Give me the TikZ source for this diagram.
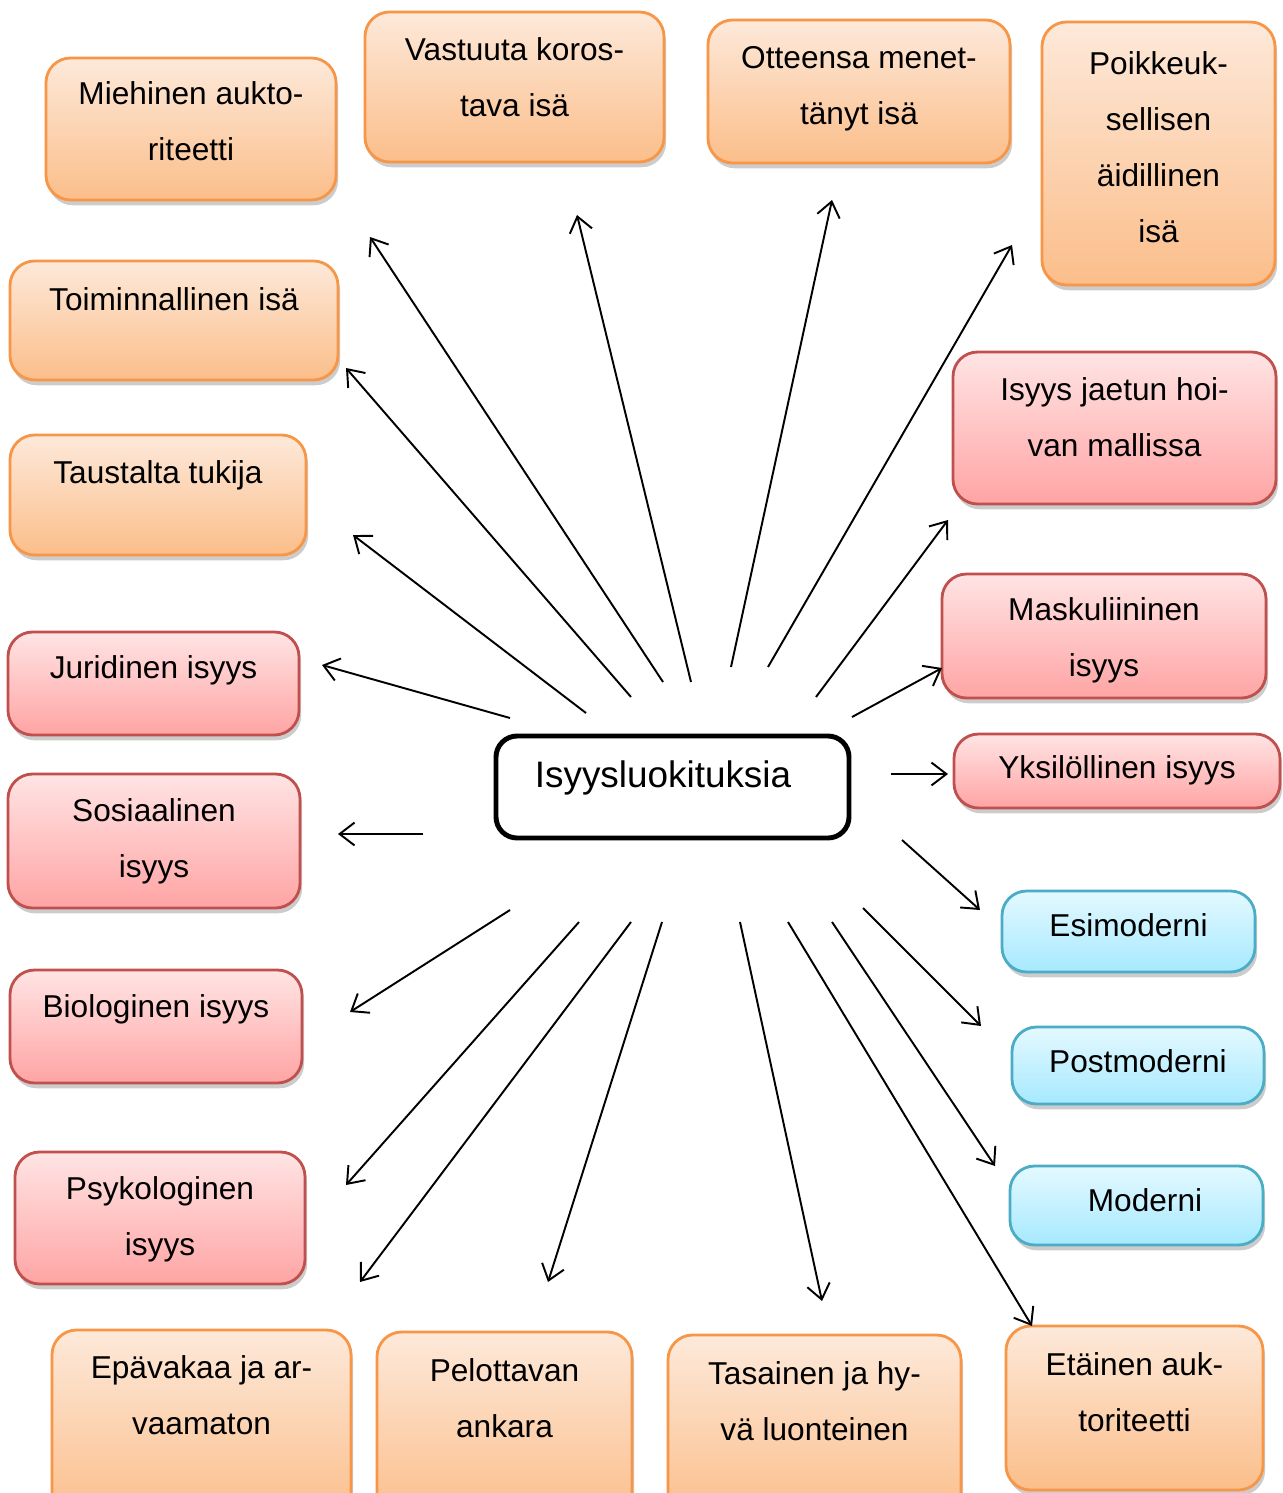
\documentclass[tikz,border=0pt]{standalone}
\usepackage{fontspec}
\setmainfont{Liberation Sans}
\usetikzlibrary{positioning,fit,shadows,arrows.meta}

\definecolor{orline}{HTML}{F79646}
\definecolor{ortop}{HTML}{FDE9DA}
\definecolor{orbot}{HTML}{FBBE8A}
\definecolor{rdline}{HTML}{C0504D}
\definecolor{rdtop}{HTML}{FFE4E4}
\definecolor{rdbot}{HTML}{FFA4A4}
\definecolor{blline}{HTML}{4BACC6}
\definecolor{bltop}{HTML}{E4F9FF}
\definecolor{blbot}{HTML}{A6E9FF}

\tikzset{
  box/.style={rounded corners=14pt, line width=1.6pt, inner sep=0pt,
    drop shadow={shadow xshift=1.2pt, shadow yshift=-3pt, opacity=0.4}},
  obox/.style={box, draw=orline, top color=ortop, bottom color=orbot},
  rbox/.style={box, draw=rdline, top color=rdtop, bottom color=rdbot},
  bbox/.style={box, draw=blline, top color=bltop, bottom color=blbot},
  cbox/.style={rounded corners=12pt, line width=2.8pt, draw=black, fill=white, inner sep=0pt},
  txt/.style={align=center, inner sep=0pt, font=\fontsize{18}{31.9}\selectfont},
  arr/.style={line width=1.1pt, -{Straight Barb[length=8.5pt,width=13pt]}}
}

\begin{document}
\begin{tikzpicture}[x=0.02cm, y=-0.02cm]
\clip (0,0) rectangle (1283,1493);
\fill[white] (0,0) rectangle (1283,1493);

% center
\node[cbox, fit={(496,736) (849,838)}] (isy) {};
\node[txt, font=\fontsize{21}{30}\selectfont, below=0.54cm of isy.north, xshift=-0.19cm] (isyT) {Isyysluokituksia};

% orange boxes
\node[obox, fit={(46,58) (336,200)}] (mie) {};
\node[txt, below=0.5cm of mie.north] (mieT) {Miehinen aukto-\\riteetti};
\node[obox, fit={(365,12) (664,162)}] (vas) {};
\node[txt, below=0.54cm of vas.north] (vasT) {Vastuuta koros-\\tava isä};
\node[obox, fit={(708,20) (1010,163)}] (ott) {};
\node[txt, below=0.54cm of ott.north] (ottT) {Otteensa menet-\\tänyt isä};
\node[obox, fit={(1042,22) (1275,285)}] (poi) {};
\node[txt, below=0.62cm of poi.north] (poiT) {Poikkeuk-\\sellisen\\äidillinen\\isä};
\node[obox, fit={(10,261) (338,380)}] (toi) {};
\node[txt, below=0.56cm of toi.north] (toiT) {Toiminnallinen isä};
\node[obox, fit={(10,435) (306,555)}] (tau) {};
\node[txt, below=0.54cm of tau.north] (tauT) {Taustalta tukija};
\node[obox, fit={(52,1330) (351,1520)}] (epa) {};
\node[txt, below=0.54cm of epa.north] (epaT) {Epävakaa ja ar-\\vaamaton};
\node[obox, fit={(377,1332) (632,1520)}] (pel) {};
\node[txt, below=0.56cm of pel.north] (pelT) {Pelottavan\\ankara};
\node[obox, fit={(668,1335) (961,1520)}] (tas) {};
\node[txt, below=0.56cm of tas.north] (tasT) {Tasainen ja hy-\\vä luonteinen};
\node[obox, fit={(1006,1326) (1263,1490)}] (eta) {};
\node[txt, below=0.56cm of eta.north] (etaT) {Etäinen auk-\\toriteetti};

% red boxes
\node[rbox, fit={(953,352) (1276,504)}] (jae) {};
\node[txt, below=0.54cm of jae.north] (jaeT) {Isyys jaetun hoi-\\van mallissa};
\node[rbox, fit={(942,574) (1266,698)}] (mas) {};
\node[txt, below=0.5cm of mas.north] (masT) {Maskuliininen\\isyys};
\node[rbox, fit={(954,734) (1280,808)}] (yks) {};
\node[txt, below=0.46cm of yks.north] (yksT) {Yksilöllinen isyys};
\node[rbox, fit={(8,632) (299,735)}] (jur) {};
\node[txt, below=0.5cm of jur.north] (jurT) {Juridinen isyys};
\node[rbox, fit={(8,774) (300,908)}] (sos) {};
\node[txt, below=0.52cm of sos.north] (sosT) {Sosiaalinen\\isyys};
\node[rbox, fit={(10,970) (302,1083)}] (bio) {};
\node[txt, below=0.52cm of bio.north] (bioT) {Biologinen isyys};
\node[rbox, fit={(15,1152) (305,1284)}] (psy) {};
\node[txt, below=0.52cm of psy.north] (psyT) {Psykologinen\\isyys};

% blue boxes
\node[bbox, fit={(1002,891) (1255,972)}] (esi) {};
\node[txt, below=0.48cm of esi.north] (esiT) {Esimoderni};
\node[bbox, fit={(1012,1027) (1264,1104)}] (pos) {};
\node[txt, below=0.48cm of pos.north] (posT) {Postmoderni};
\node[bbox, fit={(1010,1166) (1263,1245)}] (mod) {};
\node[txt, below=0.48cm of mod.north, xshift=0.17cm] (modT) {Moderni};

% arrows
\foreach \n/\s/\t in {mie/{663,682}/{370,237}, vas/{691,682}/{577,215},
    ott/{731,667}/{832,200}, poi/{768,667}/{1012,245}, toi/{631,697}/{346,368},
    tau/{586,713}/{353,535}, jae/{816,697}/{948,520}, mas/{852,717}/{942,668},
    jur/{510,718}/{322,665}, yks/{891,774}/{948,774}, sos/{423,834}/{338,834},
    esi/{902,840}/{980,910}, bio/{510,910}/{350,1012}, pos/{863,908}/{981,1026},
    psy/{579,922}/{346,1185}, mod/{832,922}/{995,1166}, epa/{631,922}/{360,1282},
    pel/{662,922}/{548,1282}, tas/{740,922}/{822,1301}, eta/{788,922}/{1032,1326}} {
  \coordinate (\n-from) at (\s);
  \coordinate (\n-to) at (\t);
  \draw[arr] (\n-from) -- (\n-to);
}
\end{tikzpicture}
\end{document}
